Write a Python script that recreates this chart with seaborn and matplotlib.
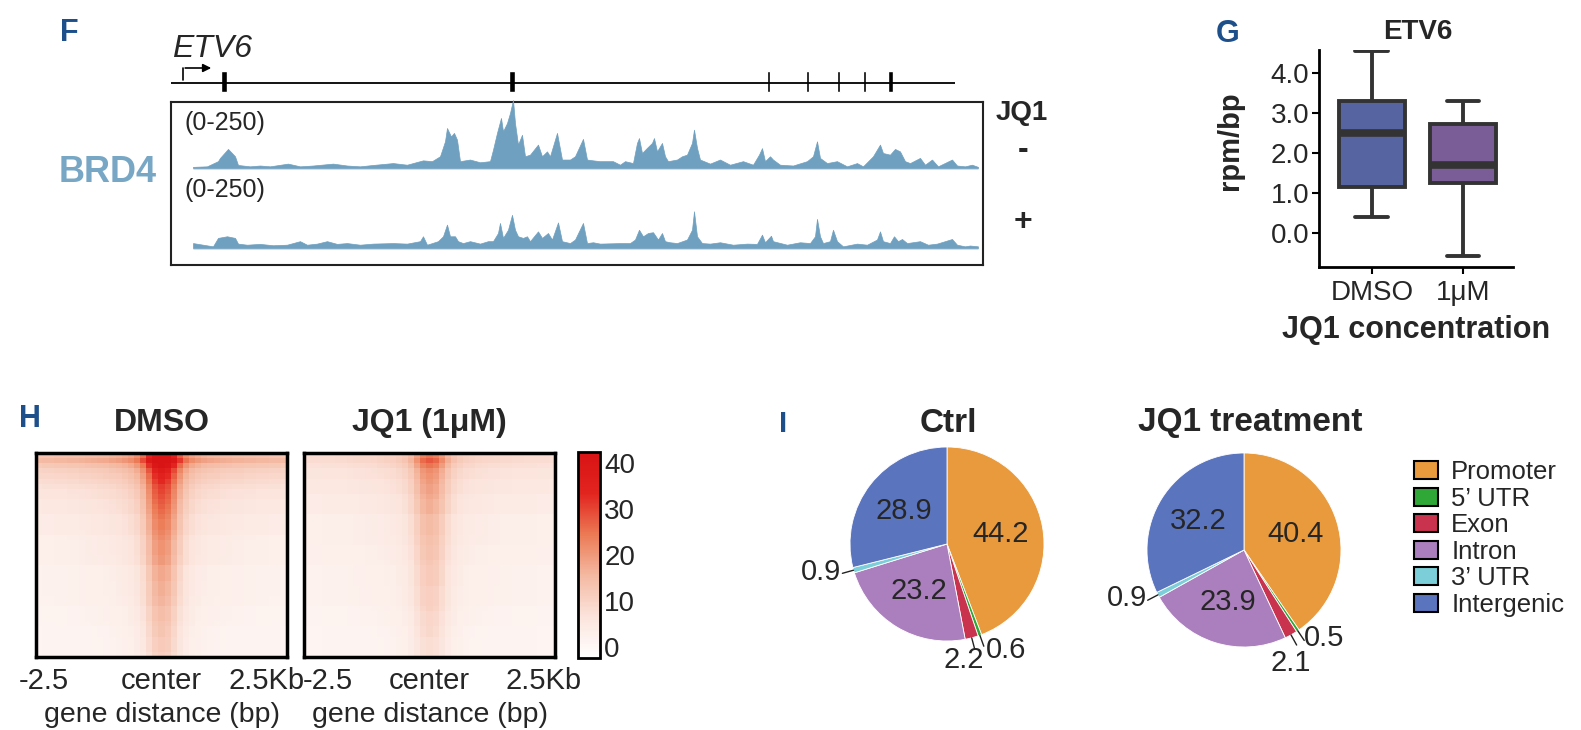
import numpy as np
import pandas as pd
import matplotlib
matplotlib.use("Agg")
import matplotlib.pyplot as plt
from matplotlib.colors import LinearSegmentedColormap
from matplotlib.patches import Patch
import seaborn as sns

# F: BRD4 coverage at the ETV6 locus (x in ~300 bp bins, y in reads, scale 0-250)
minus_pos = [0, 14, 25, 27, 35, 42, 45, 57, 67, 77, 95, 107, 120, 140, 154, 167, 180, 200, 214, 230,
             239, 247, 252, 254, 258, 261, 264, 267, 277, 287, 297, 300, 304, 308, 310, 314, 317, 320, 322, 325,
             329, 332, 337, 345, 349, 354, 357, 364, 369, 377, 382, 390, 394, 400, 407, 420, 427, 432, 440, 444,
             446, 449, 454, 459, 461, 464, 469, 472, 475, 484, 489, 494, 499, 501, 504, 507, 517, 527, 537, 550,
             560, 566, 569, 572, 577, 580, 587, 600, 614, 620, 624, 627, 634, 644, 654, 664, 670, 680, 687, 690,
             697, 702, 707, 712, 717, 727, 732, 739, 745, 759, 764, 772, 779, 785]
minus_val = [4, 6, 25, 37, 70, 43, 11, 6, 9, 6, 16, 6, 9, 16, 9, 6, 11, 18, 12, 28,
             25, 43, 98, 147, 116, 129, 104, 25, 31, 21, 25, 67, 129, 184, 135, 165, 202, 250, 165, 86,
             122, 43, 49, 86, 43, 61, 43, 129, 31, 31, 43, 107, 31, 28, 25, 25, 12, 25, 18, 92,
             110, 55, 74, 92, 110, 61, 92, 43, 25, 31, 43, 49, 92, 141, 74, 31, 16, 31, 12, 25,
             12, 49, 73, 25, 43, 31, 12, 9, 25, 43, 98, 37, 18, 25, 6, 18, 6, 43, 86, 55,
             49, 70, 61, 25, 18, 37, 12, 31, 6, 31, 9, 6, 12, 4]
plus_pos = [0, 10, 20, 25, 34, 42, 45, 54, 67, 80, 94, 107, 114, 124, 134, 144, 154, 167, 180, 200,
            214, 227, 230, 234, 245, 250, 254, 257, 262, 265, 270, 277, 287, 295, 300, 305, 307, 310, 315, 319,
            322, 325, 330, 334, 337, 345, 349, 355, 359, 365, 369, 377, 382, 390, 394, 400, 407, 427, 437, 442,
            446, 450, 455, 460, 465, 469, 472, 477, 484, 494, 499, 501, 504, 509, 517, 527, 540, 554, 564, 569,
            572, 578, 580, 594, 607, 617, 622, 624, 627, 630, 637, 640, 644, 650, 664, 674, 684, 687, 690, 697,
            701, 705, 709, 714, 727, 735, 744, 759, 764, 772, 777, 785]
plus_val = [18, 12, 6, 37, 43, 37, 16, 12, 15, 10, 12, 25, 12, 16, 25, 15, 18, 12, 16, 18,
            16, 25, 43, 12, 25, 43, 86, 43, 43, 25, 18, 25, 16, 25, 25, 55, 92, 37, 67, 122,
            67, 43, 37, 43, 25, 61, 37, 55, 31, 94, 25, 18, 31, 92, 18, 21, 16, 18, 18, 31,
            67, 43, 55, 58, 31, 55, 25, 21, 18, 31, 67, 135, 43, 18, 16, 21, 12, 16, 15, 49,
            21, 45, 25, 12, 21, 18, 43, 107, 43, 18, 25, 67, 25, 6, 16, 12, 31, 61, 25, 18,
            43, 25, 33, 18, 25, 12, 16, 33, 12, 6, 9, 6]
exon_pos = [31, 319, 576, 615, 646, 672, 698]
exon_width = [6, 6, 3, 3, 3, 3, 5]
gene_span = [-25, 762]
tss_pos = -10

# G: ETV6 rpm/bp five-number summaries
box_groups = ["DMSO", "1μM"]
box_dmso = [0.40, 1.14, 2.51, 3.30, 4.55]
box_jq1 = [-0.57, 1.24, 1.71, 2.73, 3.30]

# H: BRD4 signal around peak centers (-2.5 kb .. 2.5 kb), rows sorted by signal
col_profile = [0.00, 0.01, 0.01, 0.02, 0.02, 0.03, 0.03, 0.04, 0.05, 0.06,
               0.07, 0.08, 0.10, 0.12, 0.15, 0.19, 0.26, 0.40, 0.65, 0.90, 1.00,
               0.92, 0.70, 0.45, 0.28, 0.19, 0.14, 0.11, 0.09, 0.08, 0.06,
               0.05, 0.04, 0.04, 0.03, 0.03, 0.02, 0.02, 0.01, 0.01, 0.00]
dmso_peak = [32, 36, 31, 28, 26, 25, 24, 24, 23, 23, 22, 21, 21, 20, 20, 19, 19, 18, 18, 18,
             17, 17, 16, 16, 16, 15, 15, 15, 14, 14, 13, 13, 13, 12, 12, 12, 11, 11, 11, 10]
dmso_bg = [13, 15, 12, 10, 9, 8, 7, 6, 6, 5, 5, 5, 4, 4, 4, 4, 3, 3, 3, 3,
           3, 3, 2, 2, 2, 2, 2, 2, 2, 2, 1.5, 1.5, 1.5, 1.5, 1, 1, 1, 1, 1, 1]
jq1_peak = [17, 20, 18, 16, 15, 15, 14, 14, 14, 13, 13, 13, 12, 12, 12, 12, 11, 11, 11, 11,
            11, 10, 10, 10, 10, 10, 9, 9, 9, 9, 9, 8, 8, 8, 8, 8, 7, 7, 7, 7]
jq1_bg = [8, 8, 7, 6, 6, 5, 5, 5, 4, 4, 4, 4, 3, 3, 3, 3, 3, 3, 2.5, 2.5,
          2.5, 2.5, 2, 2, 2, 2, 2, 2, 2, 2, 1.5, 1.5, 1.5, 1.5, 1, 1, 1, 1, 1, 1]

# I: peak annotation (%)
regions = ["Promoter", "5’ UTR", "Exon", "Intron", "3’ UTR", "Intergenic"]
ctrl_pct = [44.2, 0.6, 2.2, 23.2, 0.9, 28.9]
jq1_pct = [40.4, 0.5, 2.1, 23.9, 0.9, 32.2]
region_colors = ["#e99a3c", "#2fa838", "#c9334d", "#ab7fbd", "#7ccfd8", "#5b74be"]

sns.set_theme(style="white")
plt.rcParams["font.family"] = ["Liberation Sans", "DejaVu Sans"]

W, H = 1581, 730
fig = plt.figure(figsize=(W / 100, H / 100), dpi=100)
BLUE = "#1d4f8b"


def rect(l, t, r, b):
    return [l / W, 1 - b / H, (r - l) / W, (b - t) / H]


def txt(x, y, s, **kw):
    kw.setdefault("ha", "center")
    kw.setdefault("va", "center")
    fig.text(x / W, 1 - y / H, s, **kw)


# ---------------- F ----------------
frame = fig.add_axes(rect(171, 102, 983, 265))
frame.set_xticks([])
frame.set_yticks([])
for sp in frame.spines.values():
    sp.set_linewidth(1.5)
    sp.set_color("#222222")

track_col = "#6fa0bf"
for pos, val, top, bot in [(minus_pos, minus_val, 100, 168), (plus_pos, plus_val, 180, 248)]:
    ax = fig.add_axes(rect(171, top, 983, bot + 1.6))
    ax.hlines(-3, pos[0], pos[-1], color="#d5dde1", lw=2.5, zorder=0)
    ax.fill_between(pos, 0, val, color=track_col, lw=0.5, zorder=1)
    ax.set_xlim(-22, 790)
    ax.set_ylim(-6, 250)
    ax.axis("off")

gax = fig.add_axes(rect(171, 60, 983, 100))
gax.hlines(17, gene_span[0], gene_span[1], color="black", lw=1.3)
gax.bar(exon_pos, 21, bottom=8, width=exon_width, color="black")
gax.plot([tss_pos, tss_pos], [20, 32], color="black", lw=1.2)
gax.annotate("", xy=(tss_pos + 31, 32), xytext=(tss_pos - 0.6, 32),
             arrowprops=dict(arrowstyle="-|>", lw=1.2, color="black", mutation_scale=12))
gax.set_xlim(-22, 790)
gax.set_ylim(0, 40)
gax.axis("off")

txt(60, 33, "F", ha="left", fontsize=22, fontweight="bold", color=BLUE)
txt(172, 49, "ETV6", ha="left", fontsize=23, style="italic")
txt(108, 173, "BRD4", fontsize=26, fontweight="bold", color="#78a7c6")
txt(184, 123, "(0-250)", ha="left", fontsize=18)
txt(184, 190, "(0-250)", ha="left", fontsize=18)
txt(1022, 113, "JQ1", fontsize=20, fontweight="bold")
txt(1023, 150, "-", fontsize=23, fontweight="bold")
txt(1023, 222, "+", fontsize=23, fontweight="bold")

# ---------------- G ----------------
bax = fig.add_axes(rect(1319, 50, 1513, 267))
df = pd.DataFrame({"group": [box_groups[0]] * len(box_dmso) + [box_groups[1]] * len(box_jq1),
                   "rpm": box_dmso + box_jq1})
sns.boxplot(data=df, x="group", y="rpm", hue="group", order=box_groups, hue_order=box_groups,
            palette=["#4a5ead", "#7a52a1"], width=0.72, linecolor="#333333", linewidth=2.8,
            medianprops=dict(linewidth=5.5), showfliers=False, legend=False, ax=bax)
bax.set_xlim(-0.58, 1.55)
bax.set_ylim(-0.845, 4.57)
bax.set_yticks([0, 1, 2, 3, 4])
bax.set_yticklabels(["0.0", "1.0", "2.0", "3.0", "4.0"])
sns.despine(ax=bax)
for sp in ["left", "bottom"]:
    bax.spines[sp].set_linewidth(2)
    bax.spines[sp].set_color("black")
bax.tick_params(axis="both", labelsize=20, length=5, width=1.5, color="black", direction="out",
                left=True, bottom=True, pad=2)
bax.tick_params(axis="x", pad=4)
bax.set_xlabel("JQ1 concentration", fontsize=22, fontweight="bold", labelpad=7)
bax.set_ylabel("rpm/bp", fontsize=21, fontweight="bold")
bax.yaxis.set_label_coords(-0.385, 0.58)
txt(1228, 34, "G", fontsize=22, fontweight="bold", color=BLUE)
txt(1418, 32, "ETV6", fontsize=20, fontweight="bold")

# ---------------- H ----------------
cmap = LinearSegmentedColormap.from_list(
    "wr", ["#ffffff", "#fbe4dc", "#f4b9a2", "#eb7a55", "#e2241f", "#d81414"])
cax = fig.add_axes(rect(578, 452, 600, 658))
prof = np.array(col_profile)
mats = [np.array(dmso_bg)[:, None] + np.array(dmso_peak)[:, None] * prof[None, :],
        np.array(jq1_bg)[:, None] + np.array(jq1_peak)[:, None] * prof[None, :]]
ncol = len(col_profile)
panels = [(36, 287, "DMSO", [1.3, ncol / 2, ncol - 3.4]),
          (304, 555, "JQ1 (1μM)", [3.9, ncol / 2, ncol - 1.8])]
for i, (mat, (l, r, title, ticks)) in enumerate(zip(mats, panels)):
    ax = fig.add_axes(rect(l, 453, r, 657))
    sns.heatmap(mat, ax=ax, cmap=cmap, vmin=-2.4, vmax=42.4, cbar=(i == 0),
                cbar_ax=cax if i == 0 else None, xticklabels=False, yticklabels=False)
    ax.set_xticks(ticks)
    ax.set_xticklabels(["-2.5", "center", "2.5Kb"], fontsize=21, rotation=0)
    ax.tick_params(axis="x", length=0, pad=7, bottom=True)
    ax.set_xlabel("gene distance (bp)", fontsize=20.5, labelpad=5)
    for sp in ax.spines.values():
        sp.set_visible(True)
        sp.set_linewidth(2.5)
        sp.set_color("black")
    txt((l + r) / 2, 423, title, fontsize=23, fontweight="bold")
cbar = fig.axes[-2].collections[0].colorbar
cbar.set_ticks([0, 10, 20, 30, 40])
cbar.ax.tick_params(labelsize=20, length=0, pad=3)
cbar.outline.set_visible(True)
cbar.outline.set_edgecolor("black")
cbar.outline.set_linewidth(2)
txt(30, 419, "H", fontsize=22, fontweight="bold", color=BLUE)

# ---------------- I ----------------
R = 97
small_labels = {
    "ctrl": {1: (0.40, -1.09, "left"), 2: (0.17, -1.2, "center"), 4: (-1.09, -0.29, "right")},
    "jq1": {1: (0.62, -0.91, "left"), 2: (0.48, -1.17, "center"), 4: (-1.0, -0.49, "right")},
}
for key, pct, cx, cy, title in [("ctrl", ctrl_pct, 947, 544, "Ctrl"),
                                ("jq1", jq1_pct, 1244, 550, "JQ1 treatment")]:
    ax = fig.add_axes(rect(cx - 140, cy - 140, cx + 140, cy + 140))
    wedges, _ = ax.pie(pct, colors=region_colors, startangle=90, counterclock=False, radius=1,
                       wedgeprops=dict(linewidth=0.6, edgecolor="white"))
    lim = 140 / R
    ax.set_xlim(-lim, lim)
    ax.set_ylim(-lim, lim)
    ax.set_aspect("equal")
    for j, (w, p) in enumerate(zip(wedges, pct)):
        ang = np.deg2rad((w.theta1 + w.theta2) / 2)
        if j in small_labels[key]:
            x, y, ha = small_labels[key][j]
            ax.plot([np.cos(ang), 1.12 * np.cos(ang)], [np.sin(ang), 1.12 * np.sin(ang)],
                    color="#222222", lw=1.0, clip_on=False)
            ax.text(x, y, f"{p:.1f}", ha=ha, va="center", fontsize=21)
        else:
            ax.text(0.56 * np.cos(ang), 0.56 * np.sin(ang), f"{p:.1f}",
                    ha="center", va="center", fontsize=21)
    txt(cx + (1 if key == "ctrl" else 6), 423, title, fontsize=24, fontweight="bold")
txt(783, 424, "I", fontsize=21, fontweight="bold", color=BLUE)

handles = [Patch(facecolor=c, edgecolor="black", linewidth=1.5, label=l)
           for c, l in zip(region_colors, regions)]
fig.legend(handles=handles, loc="upper left", bbox_to_anchor=(1414 / W, 1 - 460 / H),
           frameon=False, fontsize=18.5, handlelength=0.95, handleheight=0.7,
           handletextpad=0.5, labelspacing=0.1, borderaxespad=0, borderpad=0)

fig.savefig("out.png", dpi=100, facecolor="white")
